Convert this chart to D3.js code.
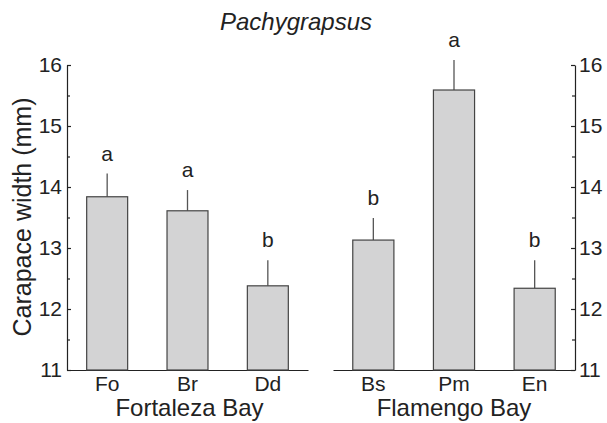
<!DOCTYPE html>
<html>
<head>
<meta charset="utf-8">
<script src="https://cdn.jsdelivr.net/npm/d3@7"></script>
<style>
  body { margin: 0; background: #fff; }
  svg text { font-family: "Liberation Sans", Arial, Helvetica, sans-serif; fill: #222; }
  .axis path, .axis line { stroke: #222; stroke-width: 1.2; }
</style>
</head>
<body>
<svg id="chart" width="607" height="423"></svg>
<script>
// ---- data ----
let groups = ["Fortaleza Bay", "Flamengo Bay"]
let sites = [["Fo", "Br", "Dd"], ["Bs", "Pm", "En"]]
let means = [[13.84, 13.61, 12.38], [13.13, 15.59, 12.34]]
let errors = [[0.38, 0.34, 0.42], [0.36, 0.49, 0.46]]
let letters = [["a", "a", "b"], ["b", "a", "b"]]
let yTicks = [11, 12, 13, 14, 15, 16]
let yMinor = [11.5, 12.5, 13.5, 14.5, 15.5]

let svg = d3.select("#chart")

let plotTop = 65, plotBottom = 370
let xLeft = 67, xRight = 575
let panels = [[67, 308], [333, 575]]

let y = d3.scaleLinear().domain([11, 16]).range([plotBottom, plotTop])

// left and right y axes, ticks pointing inward
let leftAx = svg.append("g").attr("class", "axis")
    .attr("transform", "translate(" + xLeft + ",0)")
    .call(d3.axisLeft(y).tickValues(yTicks).tickFormat(d3.format("d")).tickSize(-4).tickSizeOuter(0).tickPadding(5))
leftAx.selectAll("text").style("font-size", "21px")

let rightAx = svg.append("g").attr("class", "axis")
    .attr("transform", "translate(" + xRight + ",0)")
    .call(d3.axisRight(y).tickValues(yTicks).tickFormat(d3.format("d")).tickSize(-4).tickSizeOuter(0).tickPadding(4))
rightAx.selectAll("text").style("font-size", "21px")

svg.append("g").attr("class", "axis")
    .attr("transform", "translate(" + xLeft + ",0)")
    .call(d3.axisLeft(y).tickValues(yMinor).tickSize(-3).tickFormat("").tickSizeOuter(0))
    .select(".domain").remove()
svg.append("g").attr("class", "axis")
    .attr("transform", "translate(" + xRight + ",0)")
    .call(d3.axisRight(y).tickValues(yMinor).tickSize(-3).tickFormat("").tickSizeOuter(0))
    .select(".domain").remove()

// y axis title
svg.append("text")
    .attr("transform", "translate(31,217) rotate(-90)")
    .attr("text-anchor", "middle")
    .style("font-size", "25px")
    .text("Carapace width (mm)")

// title
svg.append("text")
    .attr("x", 296).attr("y", 30)
    .attr("text-anchor", "middle")
    .style("font-size", "24px")
    .style("font-style", "italic")
    .text("Pachygrapsus")

// panels
groups.forEach(function (g, gi) {
    let x = d3.scaleBand().domain(sites[gi]).range(panels[gi]).paddingInner(0.49).paddingOuter(0.245)
    let rows = sites[gi].map(function (s, i) {
        return { site: s, mean: means[gi][i], err: errors[gi][i], letter: letters[gi][i] }
    })

    let ax = svg.append("g").attr("class", "axis")
        .attr("transform", "translate(0," + plotBottom + ")")
        .call(d3.axisBottom(x).tickSize(0).tickSizeOuter(0).tickPadding(6))
    ax.selectAll("text").style("font-size", "21px")

    svg.append("text")
        .attr("x", (panels[gi][0] + panels[gi][1]) / 2 - (gi == 0 ? -2 : 0))
        .attr("y", 416)
        .attr("text-anchor", "middle")
        .style("font-size", "24px")
        .text(g)

    let bars = svg.append("g")
    bars.selectAll("line.err").data(rows).enter().append("line")
        .attr("class", "err")
        .attr("x1", function (d) { return x(d.site) + x.bandwidth() / 2 })
        .attr("x2", function (d) { return x(d.site) + x.bandwidth() / 2 })
        .attr("y1", function (d) { return y(d.mean) })
        .attr("y2", function (d) { return y(d.mean + d.err) })
        .attr("stroke", "#555").attr("stroke-width", 1.3)

    bars.selectAll("rect").data(rows).enter().append("rect")
        .attr("x", function (d) { return x(d.site) })
        .attr("width", x.bandwidth())
        .attr("y", function (d) { return y(d.mean) })
        .attr("height", function (d) { return plotBottom - y(d.mean) })
        .attr("fill", "#d3d3d4").attr("stroke", "#444").attr("stroke-width", 1.2)

    bars.selectAll("text").data(rows).enter().append("text")
        .attr("x", function (d) { return x(d.site) + x.bandwidth() / 2 })
        .attr("y", function (d) { return y(d.mean + d.err) - 13 })
        .attr("text-anchor", "middle")
        .style("font-size", "21px")
        .text(function (d) { return d.letter })
})
</script>
</body>
</html>
